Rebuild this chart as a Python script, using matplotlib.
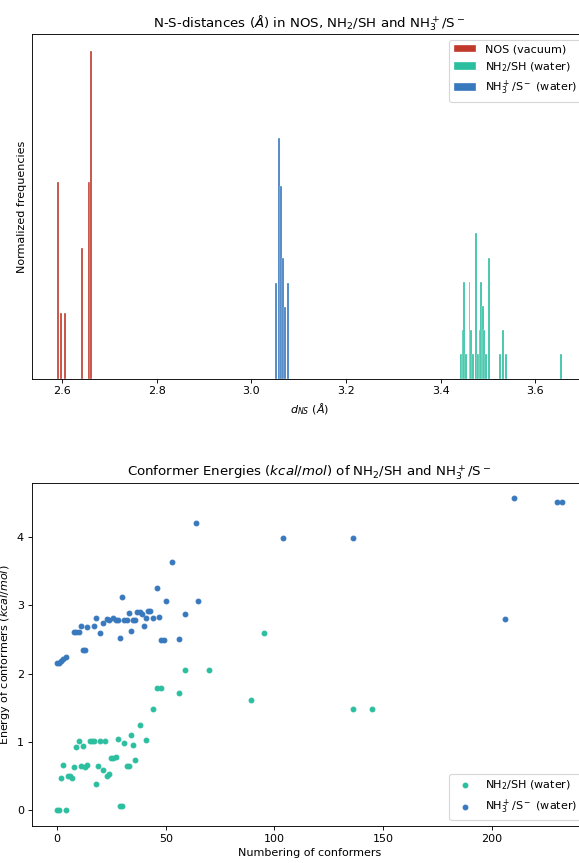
import matplotlib
matplotlib.use("Agg")
import matplotlib.pyplot as plt

# N-S distance histograms (bin centres in Angstrom, normalized heights)
nos_dist = [2.5911, 2.5981, 2.6053, 2.6419, 2.6568, 2.6606]
nos_freq = [0.60, 0.20, 0.20, 0.40, 0.60, 1.00]

nh2_dist = [3.4434, 3.4468, 3.4496, 3.4532, 3.4606, 3.4638, 3.4673, 3.4741,
            3.4789, 3.4825, 3.4857, 3.4884, 3.4914, 3.4948, 3.5016, 3.5255,
            3.5312, 3.5382, 3.6535]
nh2_freq = [0.074, 0.148, 0.295, 0.074, 0.295, 0.148, 0.074, 0.443,
            0.074, 0.148, 0.295, 0.221, 0.148, 0.074, 0.369, 0.074,
            0.148, 0.074, 0.074]

nh3_dist = [3.0513, 3.0590, 3.0632, 3.0672, 3.0708, 3.0775]
nh3_freq = [0.293, 0.733, 0.588, 0.367, 0.219, 0.293]

# conformer energies (kcal/mol)
nh2_idx = [0, 1, 4, 2, 3, 5, 6, 7, 8, 9, 10, 11, 12, 13, 14, 15, 16, 17,
           18, 19, 20, 21, 22, 23, 24, 25, 26, 27, 28, 29, 30, 31, 32, 33,
           34, 35, 36, 38, 41, 44, 46, 48, 56, 59, 70, 89, 95, 136, 145]
nh2_energy = [0.0, 0.0, 0.0, 0.48, 0.66, 0.50, 0.50, 0.48, 0.63, 0.93, 1.02,
              0.65, 0.94, 0.63, 0.67, 1.02, 1.02, 1.02, 0.38, 0.65, 1.01,
              0.59, 1.01, 0.50, 0.53, 0.76, 0.77, 0.78, 1.05, 0.06, 0.06,
              0.98, 0.65, 0.65, 1.10, 0.96, 0.74, 1.25, 1.03, 1.48, 1.79,
              1.79, 1.72, 2.05, 2.05, 1.61, 2.60, 1.48, 1.48]

nh3_idx = [0, 1, 2, 3, 4, 8, 9, 10, 11, 12, 13, 14, 17, 18, 20, 21, 23, 24,
           26, 27, 28, 29, 30, 31, 32, 33, 34, 35, 36, 37, 38, 39, 40, 41,
           42, 43, 44, 46, 47, 48, 49, 50, 53, 56, 59, 64, 65, 104, 136,
           206, 210, 230, 232]
nh3_energy = [2.16, 2.16, 2.19, 2.21, 2.24, 2.61, 2.61, 2.61, 2.70, 2.35,
              2.35, 2.685, 2.70, 2.81, 2.60, 2.74, 2.80, 2.78, 2.81, 2.78,
              2.78, 2.53, 3.13, 2.78, 2.78, 2.89, 2.63, 2.78, 2.78, 2.90,
              2.90, 2.87, 2.70, 2.82, 2.92, 2.92, 2.81, 3.26, 2.83, 2.50,
              2.50, 3.07, 3.63, 2.51, 2.88, 4.20, 3.07, 3.99, 3.99, 2.80,
              4.57, 4.52, 4.52]

red = '#c0392b'
teal = '#2bbf9f'
blue = '#3878bd'

# drawn a bit larger and saved at 80 dpi -> 579x863 px
fig = plt.figure(figsize=(579 / 80, 863 / 80), dpi=80)

# top: distance histograms
ax1 = fig.add_axes([0.0547, 0.5612, 0.959, 0.399])
ax1.bar(nos_dist, nos_freq, width=0.0042, color=red, edgecolor='white',
        linewidth=0.3, label='NOS (vacuum)')
ax1.bar(nh2_dist, nh2_freq, width=0.0038, color=teal, edgecolor='white',
        linewidth=0.3, label='NH$_2$/SH (water)')
ax1.bar(nh3_dist, nh3_freq, width=0.0045, color=blue, edgecolor='white',
        linewidth=0.3, label='NH$_3^+$/S$^-$ (water)')
ax1.set_yticks([])
ax1.set_ylabel('Normalized frequencies')
ax1.set_xlabel('$d_{NS}$ ($\\AA$)')
ax1.set_title('N-S-distances ($\\AA$) in NOS, NH$_2$/SH and NH$_3^+$/S$^-$')
ax1.legend(loc='upper right')

# bottom: conformer energies
ax2 = fig.add_axes([0.0547, 0.0429, 0.959, 0.398])
ax2.scatter(nh2_idx, nh2_energy, s=18, color=teal, label='NH$_2$/SH (water)')
ax2.scatter(nh3_idx, nh3_energy, s=18, color=blue, label='NH$_3^+$/S$^-$ (water)')
ax2.set_xlabel('Numbering of conformers')
ax2.set_ylabel('Energy of conformers ($kcal/mol$)')
ax2.set_title('Conformer Energies ($kcal/mol$) of NH$_2$/SH and NH$_3^+$/S$^-$')
ax2.legend(loc='lower right')

fig.savefig('out.png', dpi=80)
